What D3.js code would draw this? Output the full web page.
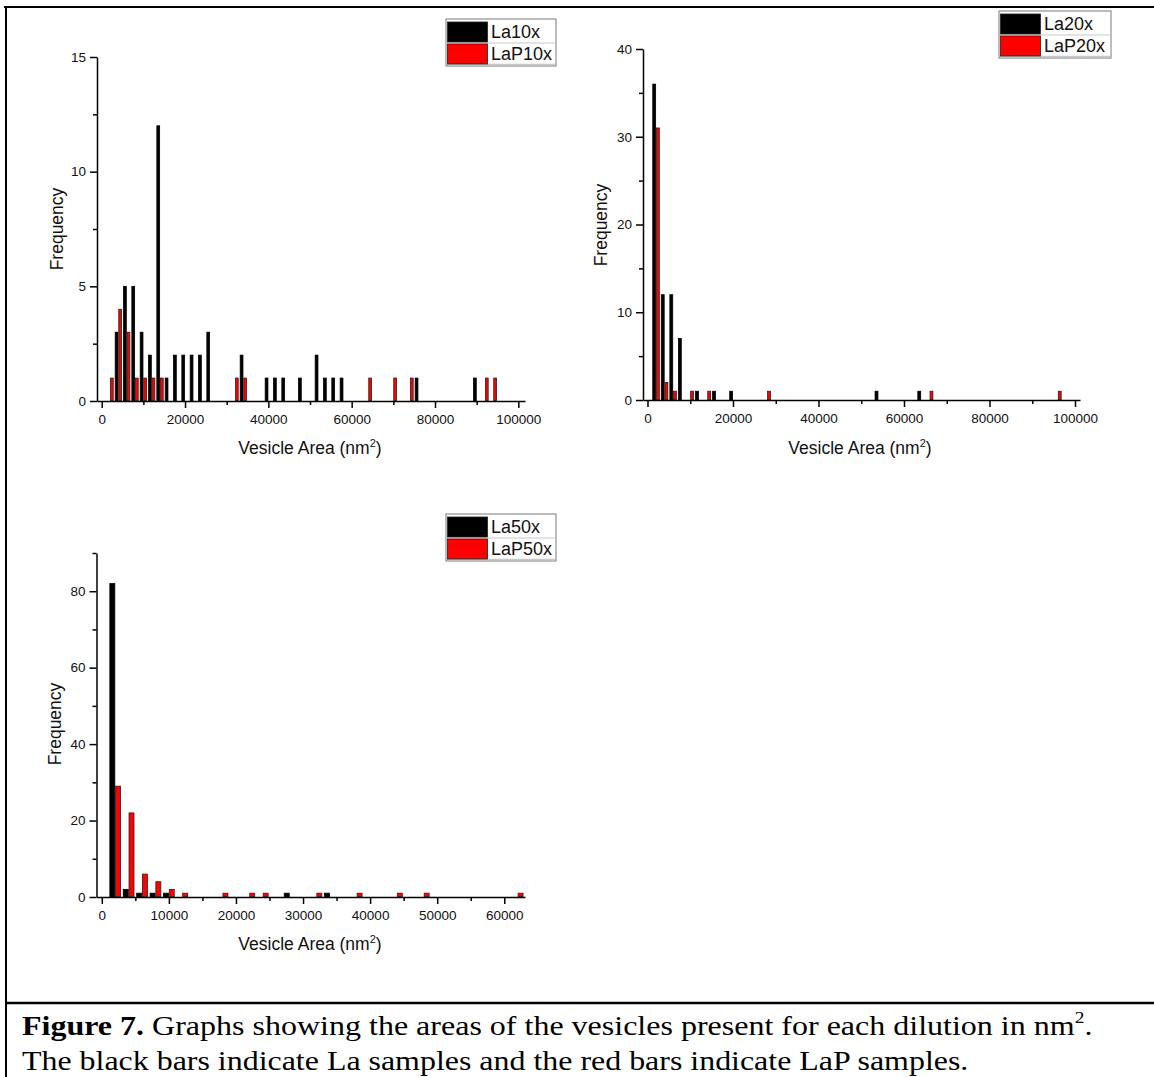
<!DOCTYPE html>
<html><head><meta charset="utf-8">
<script src="https://cdn.jsdelivr.net/npm/d3@7"></script>
<style>body{margin:0;background:#fff} svg{display:block}</style>
</head><body>
<svg id="c" width="1154" height="1077"></svg>
<script>
// ---------- data (bin centres in nm^2, bin width 2000) ----------
const binWidth = 2000;

const la10xArea  = [4000,6000,8000,10000,12000,14000,16000,18000,20000,22000,24000,26000,34000,40000,42000,44000,48000,52000,54000,56000,58000,76000,90000];
const la10xCount = [3,5,5,3,2,12,1,2,2,2,2,3,2,1,1,1,1,2,1,1,1,1,1];
const lap10xArea  = [2000,4000,6000,8000,10000,12000,14000,32000,34000,64000,70000,74000,92000,94000];
const lap10xCount = [1,4,3,1,1,1,1,1,1,1,1,1,1,1];

const la20xArea  = [2000,4000,6000,8000,12000,16000,20000,54000,64000];
const la20xCount = [36,12,12,7,1,1,1,1,1];
const lap20xArea  = [2000,4000,6000,10000,14000,28000,66000,96000];
const lap20xCount = [31,2,1,1,1,1,1,1];

const la50xArea  = [2000,4000,6000,8000,10000,28000,34000];
const la50xCount = [82,2,1,1,1,1,1];
const lap50xArea  = [2000,4000,6000,8000,10000,12000,18000,22000,24000,32000,38000,44000,48000,62000];
const lap50xCount = [29,22,6,4,2,1,1,1,1,1,1,1,1,1];

const seriesNames = [["La10x","LaP10x"],["La20x","LaP20x"],["La50x","LaP50x"]];
const seriesColors = ["#000000","#ff0000"];

// tick values
const ticks1 = {xMajor:[0,20000,40000,60000,80000,100000], xMinor:[10000,30000,50000,70000,90000], yMajor:[0,5,10,15], yMinor:[2.5,7.5,12.5]};
const ticks2 = {xMajor:[0,20000,40000,60000,80000,100000], xMinor:[10000,30000,50000,70000,90000], yMajor:[0,10,20,30,40], yMinor:[5,15,25,35]};
const ticks3 = {xMajor:[0,10000,20000,30000,40000,50000,60000], xMinor:[5000,15000,25000,35000,45000,55000], yMajor:[0,20,40,60,80], yMinor:[10,30,50,70,90]};

const xTitleText = "Vesicle Area (nm";
const yTitleText = "Frequency";

// ---------- layout ----------
const panels = [
  {left:97, right:525, top:57, bottom:401, xDomain:[-1130,101600], yDomain:[0,15], ticks:ticks1,
   la:[la10xArea,la10xCount], lap:[lap10xArea,lap10xCount], names:seriesNames[0],
   legend:{x:446,y:19,w:110,h:47}, yTitle:{x:57,y:229}, xTitle:{x:310,y:454}},
  {left:643, right:1080, top:49, bottom:400, xDomain:[-1050,101170], yDomain:[0,40], ticks:ticks2,
   la:[la20xArea,la20xCount], lap:[lap20xArea,lap20xCount], names:seriesNames[1],
   legend:{x:999,y:11,w:112,h:47}, yTitle:{x:601,y:225}, xTitle:{x:860,y:454}},
  {left:96.5, right:525, top:553, bottom:897, xDomain:[-790,63090], yDomain:[0,90], ticks:ticks3,
   la:[la50xArea,la50xCount], lap:[lap50xArea,lap50xCount], names:seriesNames[2],
   legend:{x:446,y:514,w:110,h:47}, yTitle:{x:55,y:724}, xTitle:{x:310,y:950}}
];

const svg = d3.select("#c");
svg.append("rect").attr("width",1154).attr("height",1077).attr("fill","#fff");

const FONT = "'Liberation Sans', Arial, sans-serif";

panels.forEach(p => {
  const x = d3.scaleLinear().domain(p.xDomain).range([p.left, p.right]);
  const y = d3.scaleLinear().domain(p.yDomain).range([p.bottom, p.top]);
  const g = svg.append("g");
  const bw = (x(binWidth) - x(0)) * 0.43;

  // bars
  const la = p.la[0].map((a,i)=>({a, c:p.la[1][i]}));
  const lap = p.lap[0].map((a,i)=>({a, c:p.lap[1][i]}));
  g.append("g").selectAll("rect").data(la).join("rect")
    .attr("x", d => x(d.a) - bw + 0.4).attr("width", bw - 0.8)
    .attr("y", d => y(d.c)).attr("height", d => y(0) - y(d.c))
    .attr("fill", seriesColors[0]).attr("stroke","#000").attr("stroke-width",0.8);
  g.append("g").selectAll("rect").data(lap).join("rect")
    .attr("x", d => x(d.a) + 0.4).attr("width", bw - 0.8)
    .attr("y", d => y(d.c)).attr("height", d => y(0) - y(d.c))
    .attr("fill", seriesColors[1]).attr("stroke","#222").attr("stroke-width",0.8);

  // axes
  g.append("g").attr("transform",`translate(0,${p.bottom})`)
    .call(d3.axisBottom(x).tickValues(p.ticks.xMajor).tickSize(7).tickPadding(6).tickSizeOuter(0).tickFormat(d3.format("d")));
  g.append("g").attr("transform",`translate(0,${p.bottom})`)
    .call(d3.axisBottom(x).tickValues(p.ticks.xMinor).tickSize(4).tickSizeOuter(0).tickFormat(""))
    .select(".domain").remove();
  g.append("g").attr("transform",`translate(${p.left},0)`)
    .call(d3.axisLeft(y).tickValues(p.ticks.yMajor).tickSize(7).tickPadding(4).tickSizeOuter(0).tickFormat(d3.format("d")));
  g.append("g").attr("transform",`translate(${p.left},0)`)
    .call(d3.axisLeft(y).tickValues(p.ticks.yMinor).tickSize(4).tickSizeOuter(0).tickFormat(""))
    .select(".domain").remove();
  g.selectAll(".domain, .tick line").attr("stroke","#000").attr("stroke-width",1.5);
  g.selectAll(".tick text").attr("font-family",FONT).attr("font-size",13.5).attr("fill","#111");

  // titles
  g.append("text").attr("transform",`translate(${p.yTitle.x},${p.yTitle.y}) rotate(-90)`)
    .attr("text-anchor","middle").attr("dy","0.35em")
    .attr("font-family",FONT).attr("font-size",17.5).attr("fill","#111").text(yTitleText);
  const xt = g.append("text").attr("x",p.xTitle.x).attr("y",p.xTitle.y).attr("text-anchor","middle")
    .attr("font-family",FONT).attr("font-size",17.5).attr("fill","#111");
  xt.append("tspan").text(xTitleText);
  xt.append("tspan").attr("font-size",11).attr("dy",-7).text("2");
  xt.append("tspan").attr("dy",7).text(")");

  // legend
  const L = p.legend;
  const lg = g.append("g");
  lg.append("rect").attr("x",L.x).attr("y",L.y).attr("width",L.w).attr("height",L.h)
    .attr("fill","#fff").attr("stroke","#7a7a7a").attr("stroke-width",1);
  lg.append("line").attr("x1",L.x+1).attr("x2",L.x+L.w-1).attr("y1",L.y+L.h-1.5).attr("y2",L.y+L.h-1.5)
    .attr("stroke","#c8c8c8").attr("stroke-width",1.5);
  lg.append("line").attr("x1",L.x+1).attr("x2",L.x+L.w-1).attr("y1",L.y+24).attr("y2",L.y+24)
    .attr("stroke","#c8c8c8").attr("stroke-width",1);
  p.names.forEach((n,i)=>{
    lg.append("rect").attr("x",L.x+1.5).attr("y",L.y+3+i*22).attr("width",40).attr("height",20)
      .attr("fill",seriesColors[i]).attr("stroke","#222").attr("stroke-width",0.8);
    lg.append("text").attr("x",L.x+45).attr("y",L.y+19+i*22)
      .attr("font-family",FONT).attr("font-size",18).attr("fill","#111").text(n);
  });
});

// ---------- frame & caption ----------
svg.append("line").attr("x1",4).attr("x2",1154).attr("y1",7).attr("y2",7).attr("stroke","#000").attr("stroke-width",2);
svg.append("line").attr("x1",6).attr("x2",6).attr("y1",6).attr("y2",1077).attr("stroke","#000").attr("stroke-width",2);
svg.append("line").attr("x1",5).attr("x2",1154).attr("y1",1003).attr("y2",1003).attr("stroke","#000").attr("stroke-width",2.5);

const SERIF = "'Liberation Serif', 'Times New Roman', serif";
function fitLine(textSel, targetW){
  const w = textSel.node().getBBox().width;
  textSel.attr("transform", `translate(22,0) scale(${targetW / w},1)`);
}
const cap1 = svg.append("text").attr("x",0).attr("y",1035).attr("font-family",SERIF).attr("font-size",28).attr("fill","#000");
cap1.append("tspan").attr("font-weight","bold").text("Figure 7.");
cap1.append("tspan").text(" Graphs showing the areas of the vesicles present for each dilution in nm");
cap1.append("tspan").attr("font-size",17).attr("dy",-12).text("2");
cap1.append("tspan").attr("dy",12).text(".");
fitLine(cap1, 1071);
const cap2 = svg.append("text").attr("x",0).attr("y",1070).attr("font-family",SERIF).attr("font-size",28).attr("fill","#000")
  .text("The black bars indicate La samples and the red bars indicate LaP samples.");
fitLine(cap2, 947);
</script>
</body></html>
